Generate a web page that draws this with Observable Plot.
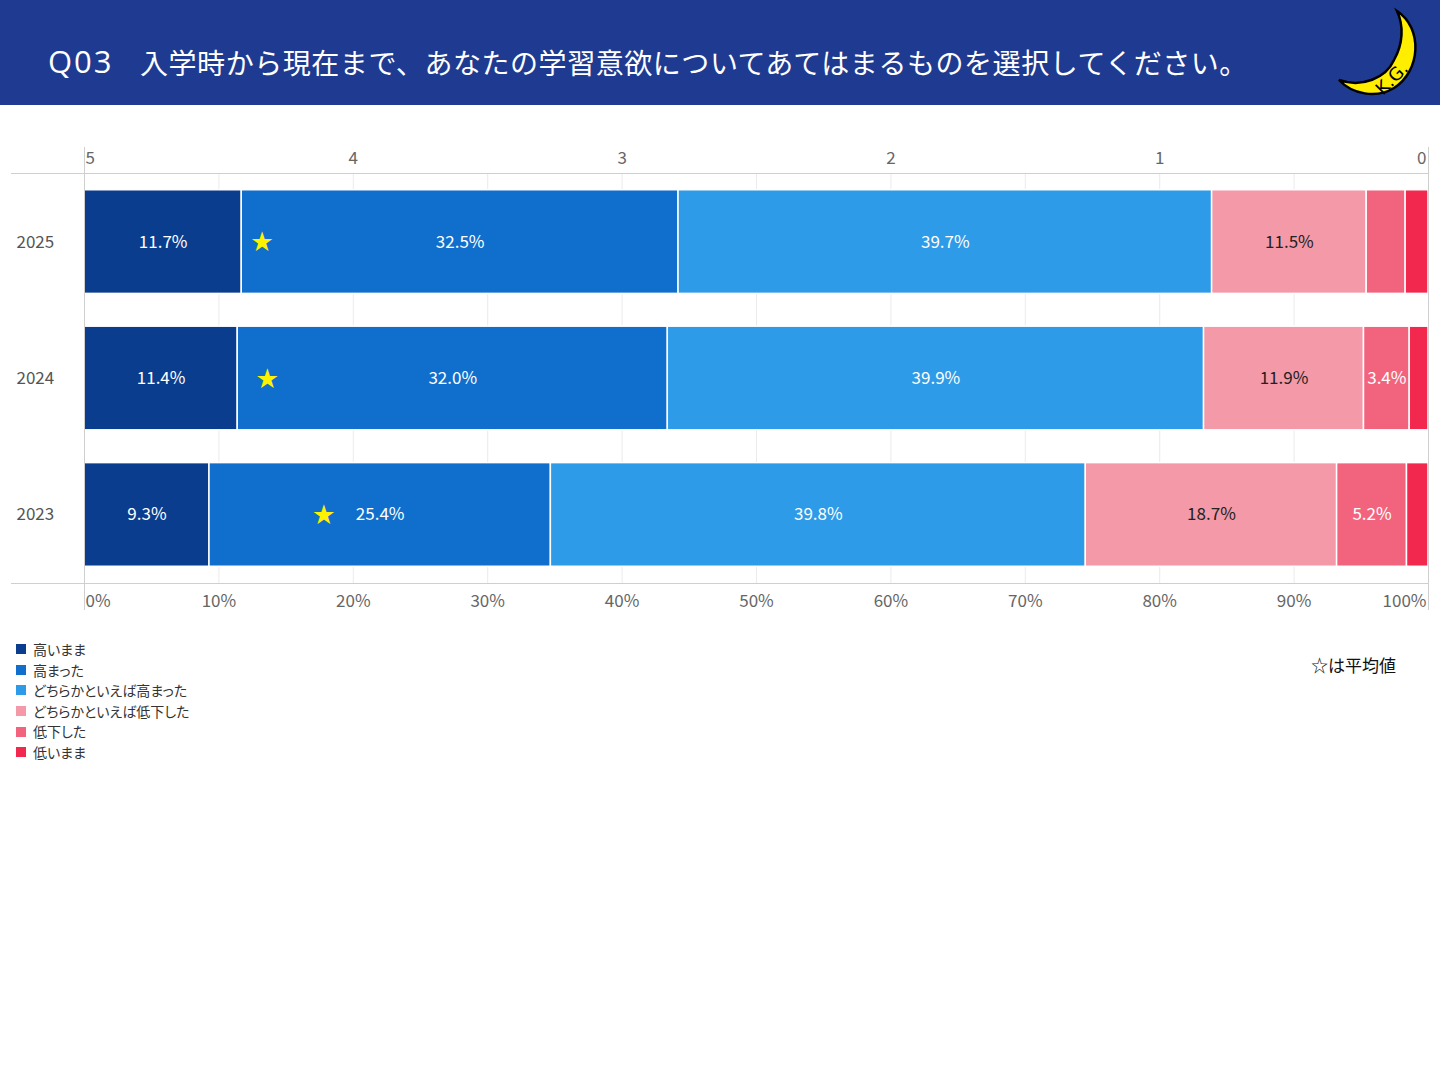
<!DOCTYPE html>
<html><head><meta charset="utf-8">
<script src="https://cdn.jsdelivr.net/npm/d3@7"></script>
<script src="https://cdn.jsdelivr.net/npm/@observablehq/plot@0.6"></script>
<style>
body{margin:0;background:#fff;font-family:"Noto Sans CJK JP","Noto Sans",sans-serif;width:1440px;height:1080px;position:relative;overflow:hidden}
#hdr{position:absolute;left:0;top:0;width:1440px;height:105px;background:#1f3b91}
#q{position:absolute;left:48px;top:37px;color:#fff;font-size:31px;line-height:48px;white-space:nowrap;letter-spacing:2px;font-family:"Open Sans","Noto Sans",sans-serif}
#title{position:absolute;left:140px;top:38px;color:#fff;font-size:28px;line-height:48px;white-space:nowrap;letter-spacing:0.55px}
#logo{position:absolute;left:1330px;top:6px;overflow:visible}
#chart{position:absolute;left:0;top:106px}
#legend{position:absolute;left:16px;top:639px;font-size:14px;color:#333;line-height:20.6px;font-feature-settings:"palt"}
#legend div{display:flex;align-items:center}
#legend span.sw{display:inline-block;width:10px;height:10px;margin-right:7px}
#note{position:absolute;left:1311px;top:652px;font-size:17px;color:#111}
</style></head>
<body>
<div id="hdr"><div id="q">Q03</div><div id="title">入学時から現在まで、あなたの学習意欲についてあてはまるものを選択してください。</div>
<svg id="logo" width="100" height="95" viewBox="0 0 100 95">
<path d="M67,5 C93,22 91,65 64,82 C46,93 22,88 9,74 C32,82 56,72 64,54 C73,38 74,20 67,5 Z" fill="#ffee00" stroke="#000" stroke-width="2.5"/>
<text x="0" y="0" transform="translate(53,90) rotate(-45)" font-size="18" font-family="DejaVu Sans" fill="#000">K.G.</text>
</svg>
</div>
<div id="chart"></div>
<div id="legend"></div>
<div id="note">☆は平均値</div>
<script>
const years = ["2025","2024","2023"];
const categories = ["高いまま","高まった","どちらかといえば高まった","どちらかといえば低下した","低下した","低いまま"];
const colors = ["#0a3d8e","#106ecc","#2e9be8","#f499a8","#f2647e","#f2284f"];
const labelColors = ["#fff","#fff","#fff","#222","#fff","#fff"];
const values2025 = [11.7, 32.5, 39.7, 11.5, 2.9, 1.7];
const values2024 = [11.4, 32.0, 39.9, 11.9, 3.4, 1.4];
const values2023 = [9.3, 25.4, 39.8, 18.7, 5.2, 1.6];
const averages = [4.34, 4.32, 4.11];
const scoreTicks = [5,4,3,2,1,0];
const pctTicks = [0,10,20,30,40,50,60,70,80,90,100];

const series = [values2025, values2024, values2023];
const rows = [];
years.forEach((y,i)=>{
  let acc = 0;
  series[i].forEach((v,j)=>{
    rows.push({year:y, cat:categories[j], ci:j, v, x1:acc, x2:acc+v, mid:acc+v/2});
    acc += v;
  });
});
const stars = years.map((y,i)=>({year:y, x:(5-averages[i])*20}));
const scoreToPct = s => (5-s)*20;

const W = 1440, H = 524, mL = 84, mR = 12, mT = 67, mB = 47;
const chart = Plot.plot({
  width: W, height: H,
  marginLeft: mL, marginRight: mR, marginTop: mT, marginBottom: mB,
  style: {fontFamily: '"Noto Sans CJK JP","Noto Sans",sans-serif', fontSize: "17px", background:"#fff"},
  x: {domain:[0,100], axis:null},
  y: {domain: years, axis:null, paddingInner:0.255, paddingOuter:0.13, round:false},
  marks: [
    Plot.ruleX(pctTicks.slice(1,-1), {x:d=>d, stroke:"#ebebeb", strokeWidth:1}),
    Plot.barX(rows, {y:"year", x1:"x1", x2:"x2", fill:d=>colors[d.ci], stroke:"#fff", strokeWidth:1.5, insetTop:-1, insetBottom:-1}),
    Plot.text(rows.filter(d=>d.v>=3), {y:"year", x:"mid", text:d=>d.v.toFixed(1)+"%", fill:d=>labelColors[d.ci], fontSize:17}),
    Plot.text(stars, {y:"year", x:"x", text:()=>"★", fill:"#fff200", fontSize:22}),
    // y labels
    Plot.axisY({label:null, tickSize:0, tickPadding:0, textAnchor:"start", dx:-68, fill:"#555", fontSize:17}),
    // bottom axis
    Plot.axisX({anchor:"bottom", label:null, ticks:pctTicks.slice(1,-1), tickSize:0, tickPadding:11, tickFormat:d=>d+"%", fill:"#666", fontSize:17}),
    Plot.axisX({anchor:"bottom", label:null, ticks:[0], tickSize:0, tickPadding:11, textAnchor:"start", dx:1, tickFormat:d=>d+"%", fill:"#666", fontSize:17}),
    Plot.axisX({anchor:"bottom", label:null, ticks:[100], tickSize:0, tickPadding:11, textAnchor:"end", dx:-2, tickFormat:d=>d+"%", fill:"#666", fontSize:17}),
    // top axis (score)
    Plot.axisX({anchor:"top", label:null, ticks:scoreTicks.slice(1,-1).map(scoreToPct), tickSize:0, tickPadding:10, tickFormat:d=>String(Math.round(5-d/20)), fill:"#666", fontSize:17}),
    Plot.axisX({anchor:"top", label:null, ticks:[scoreToPct(5)], tickSize:0, tickPadding:10, textAnchor:"start", dx:1, tickFormat:()=>"5", fill:"#666", fontSize:17}),
    Plot.axisX({anchor:"top", label:null, ticks:[scoreToPct(0)], tickSize:0, tickPadding:10, textAnchor:"end", dx:-2, tickFormat:()=>"0", fill:"#666", fontSize:17})
  ]
});
document.getElementById("chart").appendChild(chart);

// frame lines (styling)
const svg = d3.select(chart);
const g = svg.append("g").attr("stroke","#cfcfcf").attr("stroke-width",1);
g.append("line").attr("x1",11).attr("x2",W-mR).attr("y1",mT+0.5).attr("y2",mT+0.5);
g.append("line").attr("x1",11).attr("x2",W-mR).attr("y1",H-mB+0.5).attr("y2",H-mB+0.5);
g.append("line").attr("x1",mL+0.5).attr("x2",mL+0.5).attr("y1",mT-26).attr("y2",H-mB+27);
g.append("line").attr("x1",W-mR+0.5).attr("x2",W-mR+0.5).attr("y1",mT-26).attr("y2",H-mB+27);

const leg = document.getElementById("legend");
categories.forEach((c,i)=>{
  const d = document.createElement("div");
  d.innerHTML = `<span class="sw" style="background:${colors[i]}"></span><span>${c}</span>`;
  leg.appendChild(d);
});
</script>
</body></html>
